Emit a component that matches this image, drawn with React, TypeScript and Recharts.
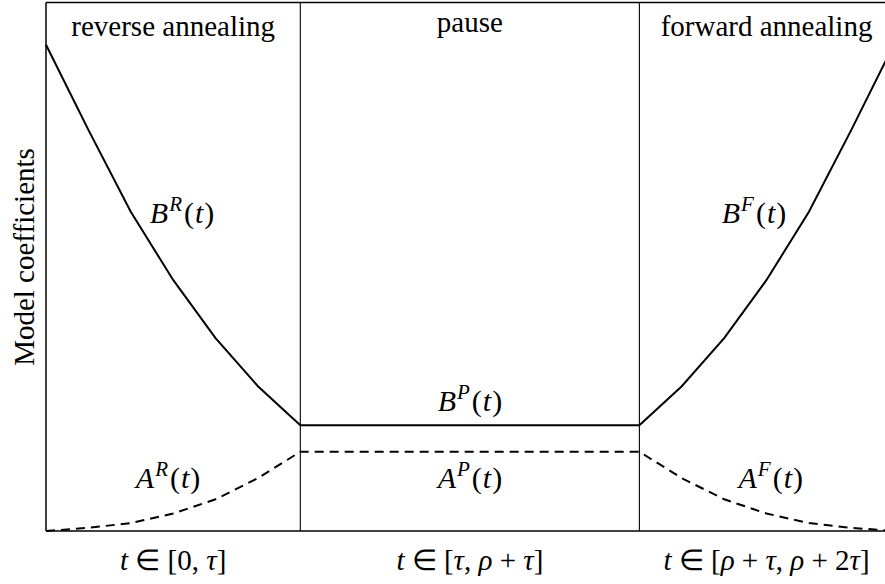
import React from "react";
import { LineChart, Line, XAxis, YAxis, ReferenceLine, ReferenceDot } from "recharts";

// Time axis in units of tau: reverse phase [0, 1], pause [1, 7/3], forward phase [7/3, 10/3]
const times = [0, 0.1667, 0.3333, 0.5, 0.6667, 0.8333, 1, 2.3333, 2.5, 2.6667, 2.8333, 3, 3.1667, 3.3333];
const bValues = [9.2, 7.59, 6.04, 4.75, 3.65, 2.74, 2.0, 2.0, 2.74, 3.65, 4.75, 6.04, 7.59, 9.2];
const aValues = [0, 0.06, 0.15, 0.33, 0.6, 1.0, 1.5, 1.5, 1.0, 0.6, 0.33, 0.15, 0.06, 0];

const phaseBounds = [1, 2.3333];
const phaseTitles = ["reverse annealing", "pause", "forward annealing"];
const phaseCenters = [0.5, 1.6667, 2.8333];
const phaseSup = ["R", "P", "F"];

const rows = times.map((t, i) => ({ t, b: bValues[i], a: aValues[i] }));

const FONT = "Liberation Serif";

// label anchors (data coordinates)
const titleY = [9.366, 9.44, 9.366];
const bLabelPos = [
  { x: 0.535, y: 5.83 },
  { x: 1.667, y: 2.27 },
  { x: 2.784, y: 5.83 },
];
const aLabelPos = [
  { x: 0.48, y: 0.81 },
  { x: 1.667, y: 0.81 },
  { x: 2.85, y: 0.81 },
];
const rangeLabelY = -0.74;

const MathTerm = (letter: string, sup: string) => (props: any) => (
  <text x={props.cx} y={props.cy} textAnchor="middle" fontFamily={FONT} fontSize={30} fill="#000">
    <tspan fontStyle="italic">{letter}</tspan>
    <tspan fontStyle="italic" fontSize={21} dy={-12} dx={1}>{sup}</tspan>
    <tspan dy={12} dx={2}>(</tspan>
    <tspan fontStyle="italic" dx={1}>t</tspan>
    <tspan dx={1}>)</tspan>
  </text>
);

const TitleText = (title: string) => (props: any) => (
  <text x={props.cx} y={props.cy} textAnchor="middle" fontFamily={FONT} fontSize={29} fill="#000">
    {title}
  </text>
);

const RangeText = (parts: { s: string; i?: boolean }[]) => (props: any) => (
  <text x={props.cx} y={props.cy} textAnchor="middle" fontFamily={FONT} fontSize={29} fill="#000">
    {parts.map((p, k) => (
      <tspan key={k} fontStyle={p.i ? "italic" : "normal"}>{p.s}</tspan>
    ))}
  </text>
);

const ranges = [
  [{ s: "t", i: true }, { s: " \u2208 [0, " }, { s: "\u03c4", i: true }, { s: "]" }],
  [{ s: "t", i: true }, { s: " \u2208 [" }, { s: "\u03c4", i: true }, { s: ", " }, { s: "\u03c1", i: true }, { s: " + " }, { s: "\u03c4", i: true }, { s: "]" }],
  [{ s: "t", i: true }, { s: " \u2208 [" }, { s: "\u03c1", i: true }, { s: " + " }, { s: "\u03c4", i: true }, { s: ", " }, { s: "\u03c1", i: true }, { s: " + 2" }, { s: "\u03c4", i: true }, { s: "]" }],
];

export default function App() {
  return (
    <div
      style={{
        position: "fixed",
        left: 0,
        top: 0,
        width: 885,
        height: 584,
        overflow: "hidden",
        background: "#fff",
        fontFamily: FONT,
      }}
    >
      <LineChart
        width={900}
        height={584}
        data={rows}
        margin={{ top: 2.5, right: 6.3, bottom: 53, left: 46 }}
      >
        <XAxis dataKey="t" type="number" domain={[0, 3.3333]} hide />
        <YAxis type="number" domain={[0, 10]} hide />

        {/* frame */}
        <ReferenceLine y={10} stroke="#000" strokeWidth={1.5} ifOverflow="visible" />
        <ReferenceLine y={0} stroke="#000" strokeWidth={1.5} ifOverflow="visible" />
        <ReferenceLine x={0} stroke="#000" strokeWidth={1.5} ifOverflow="visible" />
        {phaseBounds.map((x) => (
          <ReferenceLine key={x} x={x} stroke="#000" strokeWidth={1.1} ifOverflow="visible" />
        ))}

        <Line
          dataKey="a"
          type="linear"
          stroke="#000"
          strokeWidth={2}
          strokeDasharray="9 6"
          dot={false}
          activeDot={false}
          isAnimationActive={false}
        />
        <Line
          dataKey="b"
          type="linear"
          stroke="#000"
          strokeWidth={2}
          dot={false}
          activeDot={false}
          isAnimationActive={false}
        />

        {phaseTitles.map((title, i) => (
          <ReferenceDot
            key={"title" + i}
            x={phaseCenters[i]}
            y={titleY[i]}
            r={0}
            ifOverflow="visible"
            shape={TitleText(title)}
          />
        ))}
        {phaseSup.map((s, i) => (
          <ReferenceDot
            key={"b" + i}
            x={bLabelPos[i].x}
            y={bLabelPos[i].y}
            r={0}
            ifOverflow="visible"
            shape={MathTerm("B", s)}
          />
        ))}
        {phaseSup.map((s, i) => (
          <ReferenceDot
            key={"a" + i}
            x={aLabelPos[i].x}
            y={aLabelPos[i].y}
            r={0}
            ifOverflow="visible"
            shape={MathTerm("A", s)}
          />
        ))}
        {ranges.map((parts, i) => (
          <ReferenceDot
            key={"range" + i}
            x={phaseCenters[i]}
            y={rangeLabelY}
            r={0}
            ifOverflow="visible"
            shape={RangeText(parts)}
          />
        ))}
      </LineChart>
      <div
        style={{
          position: "absolute",
          left: 33,
          top: 257,
          transform: "rotate(-90deg)",
          transformOrigin: "0 0",
          whiteSpace: "nowrap",
          fontFamily: FONT,
          fontSize: 29,
          lineHeight: "29px",
          color: "#000",
        }}
      >
        <span style={{ position: "absolute", left: 0, top: -23, transform: "translateX(-50%)" }}>
          Model coefficients
        </span>
      </div>
    </div>
  );
}
